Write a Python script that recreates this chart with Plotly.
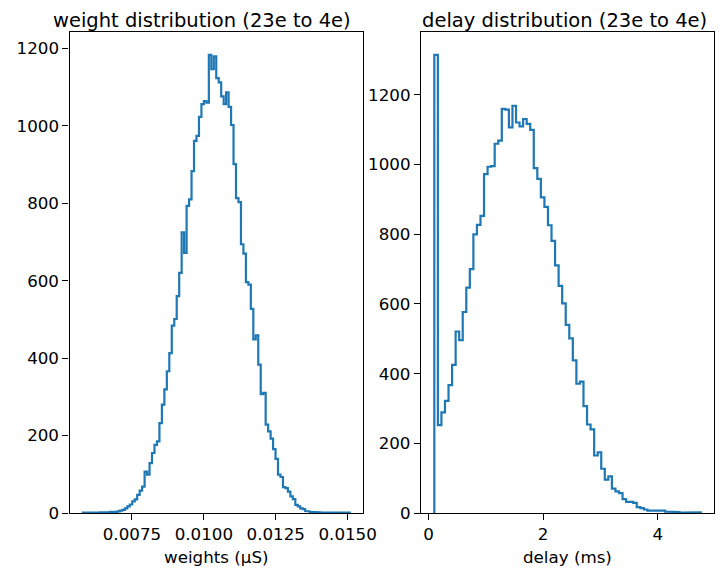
import numpy as np
import plotly.graph_objects as go

# ---------------- data ----------------
weight_range = (0.005793, 0.01507)   # histogram range (µS)
weight_counts = [
    1, 0, 1, 1, 0, 0, 1, 2, 1, 2, 2, 3, 2, 3, 4, 6, 8, 12, 17, 22,
    30, 35, 47, 58, 68, 107, 99, 129, 155, 176, 185, 232, 280, 319, 366, 413, 484, 501, 560, 620,
    725, 672, 793, 810, 883, 961, 974, 1023, 1056, 1064, 1060, 1183, 1146, 1179, 1123, 1112, 1076, 1056, 1086, 1049,
    1002, 901, 813, 803, 694, 670, 596, 590, 527, 448, 459, 383, 307, 310, 228, 211, 192, 165, 140, 99,
    93, 67, 64, 55, 43, 36, 21, 17, 12, 10, 5, 4, 3, 3, 2, 2, 1, 0, 1, 1,
    0, 1, 0, 0, 1, 0, 0, 1,
]

delay_range = (0.1, 4.75)            # histogram range (ms)
delay_counts = [
    1315, 252, 289, 322, 367, 425, 521, 496, 577, 647,
    700, 800, 827, 853, 973, 994, 996, 1060, 1069, 1160,
    1158, 1107, 1169, 1121, 1110, 1131, 1117, 1100, 990, 959,
    906, 879, 826, 781, 711, 652, 602, 540, 501, 438,
    371, 377, 307, 254, 240, 165, 174, 127, 96, 105,
    70, 62, 57, 40, 32, 32, 29, 17, 14, 10,
    7, 5, 7, 5, 7, 4, 2, 3, 3, 1,
    1, 1, 0, 1, 2,
]

weight_ticks = [0.0075, 0.0100, 0.0125, 0.0150]
delay_ticks = [0, 2, 4]
count_ticks = [0, 200, 400, 600, 800, 1000, 1200]

titles = ["weight distribution (23e to 4e)", "delay distribution (23e to 4e)"]
xlabels = ["weights (μS)", "delay (ms)"]

# ---------------- helpers ----------------
def step_xy(rng, counts):
    edges = np.linspace(rng[0], rng[1], len(counts) + 1)
    xs = np.repeat(edges, 2)
    c = np.asarray(counts, dtype=float)
    ys = np.concatenate([[0.0], np.repeat(c, 2), [0.0]])
    return edges, xs, ys

# the page body has an 8px margin, so the figure is sized to fit inside it
OFF = 8
W, H = 728 - 2 * OFF, 575 - 2 * OFF
FONT = "DejaVu Sans"
BLUE = "#1f77b4"

def px_x(x):
    return (x - OFF) / W

def px_y(y):
    return 1 - (y - OFF) / H

fig = go.Figure()

panels = [
    (weight_range, weight_counts, weight_ticks, ".4f", (69.5, 363.0), 202.0),
    (delay_range, delay_counts, delay_ticks, "d", (421.0, 714.0), 564.0),
]
y_dom = [px_y(513.0), px_y(32.0)]

for i, (rng, counts, xt, fmt, (x0, x1), tcx) in enumerate(panels):
    edges, xs, ys = step_xy(rng, counts)
    xa = "x" if i == 0 else "x2"
    ya = "y" if i == 0 else "y2"
    fig.add_trace(go.Scatter(x=xs, y=ys, mode="lines",
                             line=dict(color=BLUE, width=2.2),
                             xaxis=xa, yaxis=ya, showlegend=False,
                             hoverinfo="skip"))
    span = edges[-1] - edges[0]
    xr = [edges[0] - 0.05 * span, edges[-1] + 0.05 * span]
    yr = [0, max(counts) * 1.05]
    axis_common = dict(showline=True, linecolor="black", linewidth=1.3,
                       mirror=True, ticks="outside", ticklen=6, tickwidth=1.3,
                       tickcolor="black", showgrid=False, zeroline=False,
                       automargin=False,
                       tickfont=dict(family=FONT, size=16.7, color="black"))
    xkey = "xaxis" if i == 0 else "xaxis2"
    ykey = "yaxis" if i == 0 else "yaxis2"
    fig.update_layout(**{
        xkey: dict(domain=[px_x(x0), px_x(x1)], range=xr, tickvals=xt,
                   tickformat=fmt, anchor=ya, **axis_common),
        ykey: dict(domain=y_dom, range=yr, tickvals=count_ticks,
                   anchor=xa, **axis_common),
    })
    fig.add_annotation(text=titles[i], x=px_x(tcx), y=px_y(8.0),
                       xref="paper", yref="paper", showarrow=False,
                       xanchor="center", yanchor="top", borderpad=0,
                       font=dict(family=FONT, size=19.5, color="black"))
    fig.add_annotation(text=xlabels[i], x=px_x((x0 + x1) / 2), y=px_y(557.0),
                       xref="paper", yref="paper", showarrow=False,
                       xanchor="center", yanchor="middle",
                       font=dict(family=FONT, size=16.7, color="black"))

fig.update_layout(width=W, height=H,
                  margin=dict(l=0, r=0, t=0, b=0, pad=0, autoexpand=False),
                  template="none",
                  paper_bgcolor="white", plot_bgcolor="white",
                  font=dict(family=FONT, color="black"))

fig.write_html("out.html")
